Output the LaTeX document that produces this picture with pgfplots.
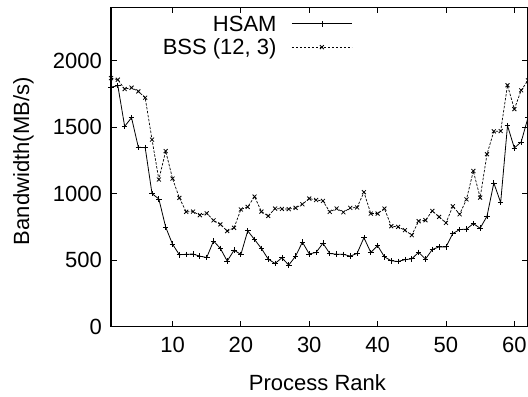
\documentclass[border=0pt]{standalone}
\usepackage{pgfplots}
\pgfplotsset{compat=1.18}
\usepackage{fontspec}
\setmainfont{Liberation Sans}
\begin{document}
\begin{tikzpicture}[font=\fontsize{22bp}{26bp}\selectfont]
\begin{axis}[
  scale only axis,
  width=417bp, height=319.4bp,
  xmin=1, xmax=62, ymin=0, ymax=2400,
  xtick={10,20,30,40,50,60},
  ytick={0,500,1000,1500,2000},
  /pgf/number format/assume math mode=true,
  /pgf/number format/1000 sep={},
  tick align=inside,
  major tick length=6bp,
  axis line style={line width=1.2bp},
  every tick/.style={line width=0.9bp, black},
  xticklabel style={anchor=north, inner sep=0pt, yshift=-10bp},
  yticklabel style={anchor=east, inner sep=0pt, xshift=-9bp},
  xlabel={Process Rank},
  ylabel={Bandwidth(MB/s)},
  xlabel style={at={(axis description cs:0.495,-0.175)}, anchor=center},
  ylabel style={at={(axis description cs:-0.21,0.518)}, anchor=center, rotate=0},
  legend plot pos=right,
  legend cell align=right,
  legend style={draw=none, fill=none, inner sep=0pt, outer sep=0pt,
    at={(axis description cs:0.5787,0.9847)}, anchor=north east,
    column sep=15bp, row sep=0bp,
    nodes={inner sep=0pt, text height=19.5bp, text depth=3.8bp}},
  legend image code/.code={\draw[mark repeat=2,mark phase=2,#1] plot coordinates {(0bp,0bp) (30bp,0bp) (60bp,0bp)};},
]
\coordinate (bl) at (rel axis cs:0,0);
\coordinate (tr) at (rel axis cs:1,1);
\addplot[black, line width=0.8bp, mark=+, mark size=2.8bp, mark options={solid, line width=0.8bp}] coordinates {
(1,1800) (2,1811) (3,1505) (4,1571) (5,1348) (6,1346) (7,1000) (8,960) (9,748) (10,620)
(11,541) (12,544) (13,546) (14,530) (15,520) (16,644) (17,588) (18,493) (19,575) (20,543)
(21,720) (22,655) (23,588) (24,508) (25,475) (26,518) (27,463) (28,530) (29,635) (30,547)
(31,558) (32,627) (33,550) (34,545) (35,544) (36,530) (37,551) (38,669) (39,558) (40,609)
(41,525) (42,495) (43,490) (44,504) (45,510) (46,559) (47,508) (48,580) (49,600) (50,600)
(51,700) (52,730) (53,733) (54,775) (55,740) (56,830) (57,1080) (58,933) (59,1511) (60,1343)
(61,1388) (62,1571)
};
\addlegendentry{HSAM}
\addplot[black, line width=0.7bp, dash pattern=on 2.5bp off 1.5bp, mark=x, mark size=2.8bp, mark options={solid, line width=0.8bp}] coordinates {
(1,1868) (2,1856) (3,1786) (4,1796) (5,1768) (6,1721) (7,1406) (8,1106) (9,1320) (10,1113)
(11,968) (12,863) (13,865) (14,838) (15,852) (16,799) (17,769) (18,719) (19,743) (20,881)
(21,900) (22,978) (23,865) (24,832) (25,888) (26,885) (27,884) (28,893) (29,920) (30,963)
(31,952) (32,945) (33,863) (34,888) (35,860) (36,893) (37,896) (38,1011) (39,850) (40,850)
(41,888) (42,755) (43,750) (44,725) (45,688) (46,793) (47,800) (48,870) (49,825) (50,780)
(51,905) (52,845) (53,957) (54,1170) (55,970) (56,1296) (57,1468) (58,1470) (59,1814) (60,1635)
(61,1776) (62,1851)
};
\addlegendentry{BSS (12, 3)}
\end{axis}
\pgfresetboundingbox
\path ([shift={(-111bp,-69.3bp)}]bl) rectangle ([shift={(0bp,7.3bp)}]tr);
\end{tikzpicture}
\end{document}
